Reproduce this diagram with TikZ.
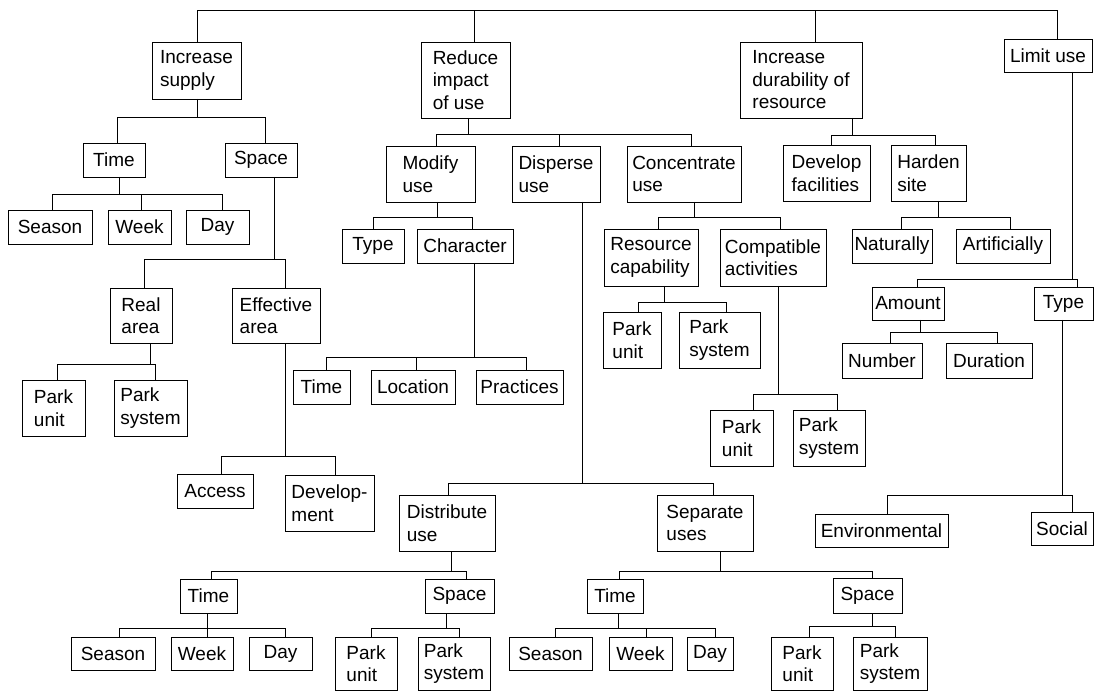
\documentclass[tikz,border=0pt]{standalone}
\usepackage{fontspec}
\setmainfont{Liberation Sans}
\usepackage{tikz}
\usetikzlibrary{positioning, calc}

\tikzset{
  box/.style={draw, line width=.9pt, inner sep=0pt, outer sep=0pt, align=left,
    font=\fontsize{19}{22.5}\selectfont},
  sz/.style 2 args={minimum width=#1pt, minimum height=#2pt},
  link/.style={line width=.9pt}
}
% parent, stem shift, drop to bar, children with their shifts
\newcommand{\branch}[4]{%
  \draw[link] ([xshift=#2pt]#1.south) -- ++(0,#3) coordinate (bar);
  \foreach \c/\s in {#4} \draw[link] (bar) -| ([xshift=\s pt]\c.north);
}

\begin{document}
\begin{tikzpicture}[x=1pt,y=-1pt,line join=miter]
\useasboundingbox (0,0) rectangle (1094,692);
%%
  % Node: top level
  \node[box, sz={89}{57}] (incsup) at (196.5,70.5) {Increase\\supply};
  \node[box, sz={89}{76}] (redimp) at (465.5,80) {Reduce\\impact\\of use};
  \node[box, sz={122}{76}] (incdur) at (801,80) {Increase\\durability of\\resource};
  \node[box, sz={88}{33}] (limuse) at (1048,55.5) {Limit use};
  % Edge: root -- top level
  \coordinate (root) at (627,10);
  \foreach \c/\s in {incsup/0.5, redimp/8.5, incdur/14, limuse/9}
    \draw[link] ([xshift=\s pt]\c.north) |- (root);
%%
  % Node: increase supply
  \node[box, sz={62}{34}] (is_time) at (114,160) {Time};
  \node[box, sz={72}{34}] (is_space) at (261,160) {Space};
  \node[box, sz={84}{34}] (is_season) at (50,227) {Season};
  \node[box, sz={63}{34}] (is_week) at (139.5,227) {Week};
  \node[box, sz={63}{34}] (is_day) at (217.5,227) {Day};
  \node[box, sz={62}{55}] (is_real) at (141,315.5) {Real\\area};
  \node[box, sz={88}{55}] (is_eff) at (276,315.5) {Effective\\area};
  \node[box, sz={63}{56}] (is_pu) at (53.5,408) {Park\\unit};
  \node[box, sz={73}{56}] (is_ps) at (150.5,408) {Park\\system};
  \node[box, sz={76}{34}] (is_access) at (215,491) {Access};
  \node[box, sz={89}{56}] (is_dev) at (329.5,503) {Develop-\\ment};
  % Edge: increase supply
  \branch{incsup}{0.5}{18}{is_time/3, is_space/4}
  \branch{is_time}{5}{17}{is_season/2, is_week/1.5, is_day/4.5}
  \branch{is_space}{13}{82}{is_real/3, is_eff/9}
  \branch{is_real}{9}{21}{is_pu/3.5, is_ps/4.5}
  \branch{is_eff}{9}{113}{is_access/6, is_dev/5.5}
%%
  % Node: reduce impact of use
  \node[box, sz={89}{56}] (modify) at (430.5,174) {Modify\\use};
  \node[box, sz={88}{56}] (disperse) at (556,174) {Disperse\\use};
  \node[box, sz={114}{56}] (concen) at (684,174) {Concentrate\\use};
  \node[box, sz={62}{34}] (m_type) at (373,246) {Type};
  \node[box, sz={96}{34}] (m_char) at (465,246) {Character};
  \node[box, sz={57}{34}] (c_time) at (321.5,387) {Time};
  \node[box, sz={84}{34}] (c_loc) at (413,387) {Location};
  \node[box, sz={87}{34}] (c_prac) at (519.5,387) {Practices};
  \node[box, sz={96}{56}] (distrib) at (447,523) {Distribute\\use};
  \node[box, sz={96}{56}] (separ) at (705,523) {Separate\\uses};
  \node[box, sz={57}{34}] (d_time) at (208.5,596) {Time};
  \node[box, sz={69}{34}] (d_space) at (459.5,596) {Space};
  \node[box, sz={84}{33}] (d_season) at (113,653.5) {Season};
  \node[box, sz={62}{33}] (d_week) at (202,653.5) {Week};
  \node[box, sz={63}{33}] (d_day) at (280.5,653.5) {Day};
  \node[box, sz={62}{53}] (d_pu) at (366,663.5) {Park\\unit};
  \node[box, sz={72}{53}] (d_ps) at (454,663.5) {Park\\system};
  \node[box, sz={56}{34}] (s_time) at (615,596) {Time};
  \node[box, sz={69}{35}] (s_space) at (867.5,595.5) {Space};
  \node[box, sz={83}{33}] (s_season) at (550.5,653.5) {Season};
  \node[box, sz={63}{33}] (s_week) at (640.5,653.5) {Week};
  \node[box, sz={46}{33}] (s_day) at (710,653.5) {Day};
  \node[box, sz={62}{53}] (s_pu) at (802,663.5) {Park\\unit};
  \node[box, sz={74}{53}] (s_ps) at (890,663.5) {Park\\system};
  \node[box, sz={94}{57}] (rescap) at (651,257.5) {Resource\\capability};
  \node[box, sz={106}{57}] (compat) at (773,257.5) {Compatible\\activities};
  \node[box, sz={58}{56}] (r_pu) at (632,340) {Park\\unit};
  \node[box, sz={81}{56}] (r_ps) at (719.5,340) {Park\\system};
  \node[box, sz={63}{56}] (a_pu) at (741.5,438) {Park\\unit};
  \node[box, sz={72}{56}] (a_ps) at (829,438) {Park\\system};
  % Edge: reduce impact of use
  \branch{redimp}{2.5}{16}{modify/5.5, disperse/3, concen/7}
  \branch{modify}{6.5}{15}{m_type/0, m_char/7}
  \branch{m_char}{9}{94}{c_time/4.5, c_loc/3, c_prac/6.5}
  \branch{disperse}{26}{281}{distrib/1, separ/8}
  \branch{distrib}{4}{20}{d_time/2.5, d_space/6.5}
  \branch{d_time}{-1.5}{15}{d_season/6, d_week/5, d_day/4.5}
  \branch{d_space}{-13.5}{15}{d_pu/5, d_ps/5}
  \branch{separ}{15}{20}{s_time/4, s_space/4.5}
  \branch{s_time}{3}{15}{s_season/4.5, s_week/5.5, s_day/5}
  \branch{s_space}{4.5}{13}{s_pu/7, s_ps/5}
  \branch{concen}{10}{15}{rescap/7, compat/7}
  \branch{rescap}{13}{16}{r_pu/6, r_ps/6.5}
  \branch{compat}{5}{108}{a_pu/11.5, a_ps/8}
%%
  % Node: increase durability of resource
  \node[box, sz={87}{56}] (devfac) at (826.5,173) {Develop\\facilities};
  \node[box, sz={75}{56}] (harden) at (928.5,173) {Harden\\site};
  \node[box, sz={80}{34}] (natur) at (892,246) {Naturally};
  \node[box, sz={94}{34}] (artif) at (1003,246) {Artificially};
  % Edge: increase durability of resource
  \branch{incdur}{51}{17}{devfac/4.5, harden/6.5}
  \branch{harden}{9.5}{16}{natur/9, artif/7}
%%
  % Node: limit use
  \node[box, sz={72}{33}] (amount) at (908,303.5) {Amount};
  \node[box, sz={59}{33}] (l_type) at (1063.5,303.5) {Type};
  \node[box, sz={80}{35}] (number) at (882,360.5) {Number};
  \node[box, sz={86}{35}] (duration) at (989,360.5) {Duration};
  \node[box, sz={133}{33}] (environ) at (881.5,530.5) {Environmental};
  \node[box, sz={62}{33}] (social) at (1062,528.5) {Social};
  % Edge: limit use
  \branch{limuse}{24}{207}{amount/9, l_type/13.5}
  \branch{amount}{12}{12}{number/8, duration/8}
  \branch{l_type}{-1.5}{175}{environ/5.5, social/10}
%
\end{tikzpicture}
\end{document}
